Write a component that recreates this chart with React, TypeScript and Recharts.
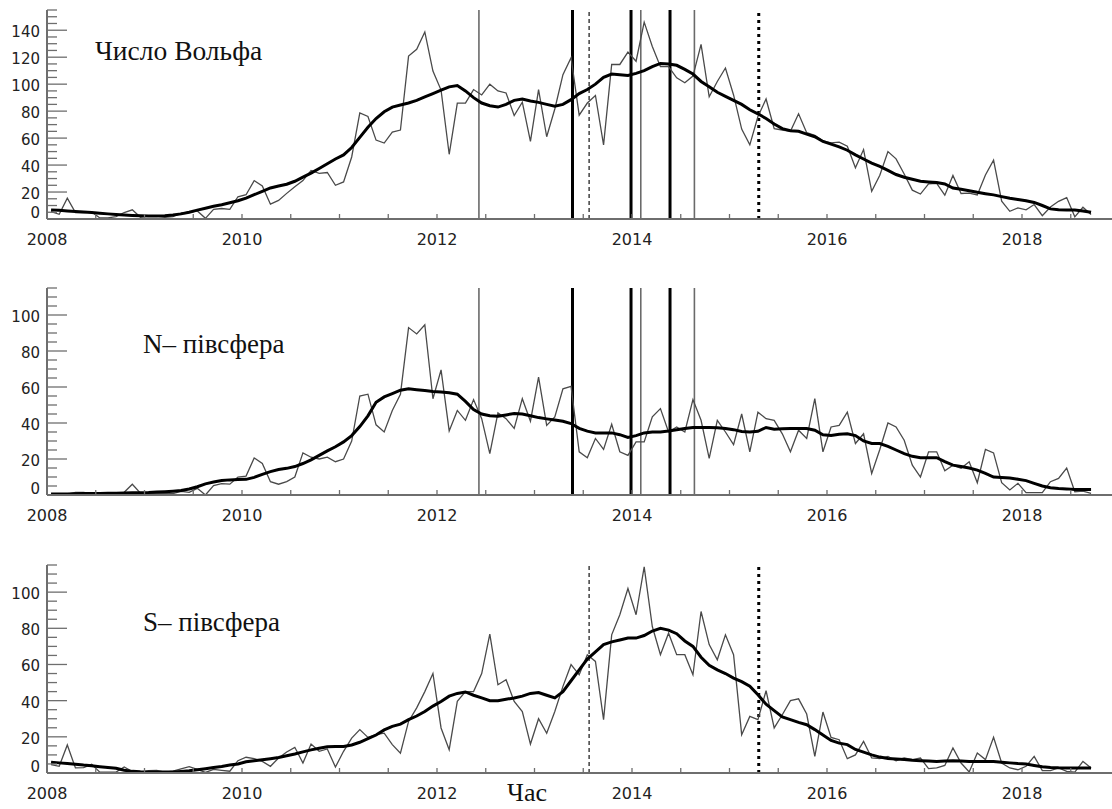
import { LineChart, Line, XAxis, YAxis, ReferenceLine } from "recharts";

// ── data: monthly values, Jan 2008 – Sep 2018 ────────────────────────────────
const START_YEAR = 2008;
const months = Array.from({ length: 129 }, (_, i) => START_YEAR + (i + 0.5) / 12);

const wolfMonthly = [
  5.5, 3.5, 15.5, 4.8, 4.8, 5.2, 0.8, 0.8, 1.8, 4.8, 6.8, 1.3,
  2.3, 2.2, 1.2, 1.8, 4.3, 5, 6, 0.5, 7.2, 7.8, 7.1, 16.5,
  18, 28.5, 24.5, 11, 13.8, 19, 24, 28.5, 36, 33.8, 34.5, 25,
  27.5, 46, 78.7, 76, 58.5, 56.3, 64.5, 66, 120.8, 125.8, 138.7, 109.7,
  95.6, 48, 86, 86, 96, 92, 100, 95, 93.5, 76.7, 86.6, 57.6,
  96, 61, 81.6, 107, 119.6, 77, 86, 91.6, 55, 114.6, 114.6, 123.8,
  117, 146, 128, 113, 113, 104.7, 101, 106, 129.5, 90.6, 102, 112,
  92, 66.7, 55, 76, 89, 67, 66, 65, 78, 64, 62, 58,
  56.4, 57, 54, 38, 51.5, 20.5, 32.4, 50, 44.6, 33.4, 21.4, 18.5,
  26, 26.4, 17.7, 32.3, 18.9, 19.2, 17.8, 32.6, 43.6, 13.2, 5.7, 8.2,
  6.8, 10.7, 2.5, 8.9, 13.1, 15.9, 1.6, 8.7, 3.3,
];
const wolfSmooth = [
  6.7, 6.4, 6.0, 5.6, 5.2, 4.8, 4.3, 3.8, 3.3, 2.9, 2.6, 2.4,
  2.2, 2.2, 2.4, 3.0, 3.8, 5.0, 6.6, 8.0, 9.4, 10.6, 12.0, 13.5,
  15.5, 18, 20.5, 23, 24.5, 25.8, 28, 31, 34, 37.5, 41, 44.5,
  47.5, 53, 60.5, 68, 74.5, 79.5, 83, 84.5, 86, 88, 90.5, 93,
  95.5, 98, 99, 95, 90, 86, 84, 83, 85, 88, 89, 87.5,
  86.5, 85, 83.6, 85, 88.5, 93, 96, 100, 105, 107.5, 107, 106.5,
  108, 110, 113, 115.4, 115, 114, 111, 107.5, 102, 98, 94, 91,
  88, 85, 81, 78, 74.5, 70.5, 67, 65.5, 65, 63, 61, 57.5,
  55.5, 53.5, 51, 47.6, 44.5, 41.5, 39, 36, 33, 31, 29.5, 28,
  27.5, 27, 26, 23, 22, 21, 19.8, 18.8, 17.9, 16.6, 15.4, 14.5,
  13.5, 12.3, 10, 7.5, 6.8, 6.7, 6.7, 6, 5,
];

const northMonthly = [
  0.5, 0.3, 0.5, 1.5, 1.5, 0.8, 0.5, 0.5, 1.3, 1.5, 6, 1,
  1, 0.8, 0.8, 0.8, 2, 1.5, 3.7, 0, 5.2, 6.3, 6, 10,
  10.5, 20.6, 17.5, 7.4, 6, 7.4, 10, 23.4, 21, 20, 21, 18.5,
  20, 30, 55, 56, 39, 35, 47, 56, 93, 89.5, 94.6, 53.5,
  69.5, 35.6, 47, 41.5, 53, 42.4, 23, 45.6, 42.4, 37, 53.5, 41,
  65.5, 38.7, 43.4, 59, 60.3, 24, 20.7, 31.4, 25.3, 39.3, 24, 22,
  29.5, 29.5, 43.4, 48, 35, 37.8, 35, 53, 41.5, 20.3, 41.5, 35,
  28, 45, 24, 46, 42.4, 41.5, 34, 24, 36, 31.4, 53.5, 24,
  37.8, 38.7, 46, 28.6, 34, 12, 25.3, 40, 37.8, 30.4, 16.6, 10,
  24, 24, 13.5, 16.6, 14.8, 18.5, 6.8, 25.3, 23.4, 6.8, 2.8, 6.5,
  1.3, 1.3, 1.3, 7.4, 9.2, 15, 1.8, 2.2, 0.9,
];
const northSmooth = [
  0.5, 0.5, 0.6, 0.7, 0.8, 0.9, 0.9, 1.0, 1.0, 1.1, 1.2, 1.3,
  1.4, 1.6, 1.8, 2.1, 2.5, 3.3, 4.6, 6.2, 7.2, 8.0, 8.4, 8.6,
  8.7, 9.8, 11.5, 13, 14.2, 14.8, 15.8, 17.5, 19.5, 22, 24.5, 26.8,
  29.5, 33, 38, 44, 51.5, 54.5, 56.3, 58.2, 59, 58.5, 58, 57.5,
  57.2, 56.8, 56, 52, 47.5, 45, 44, 43.7, 44.5, 45.3, 45, 44,
  43, 42.3, 41.7, 41, 39.7, 37, 35.5, 34.5, 34.5, 34.5, 33.5, 32,
  33, 34.5, 35, 35, 35.5, 36.2, 37, 37.5, 37.5, 37.5, 37.3, 37,
  36.3, 35.3, 35, 35.4, 37.5, 36.5, 36.8, 37, 37, 36.9, 36, 33.5,
  33, 33.8, 34, 33, 30, 28.6, 28.6, 27, 25, 23, 21.5, 20.7,
  20.7, 20.7, 18.5, 16.6, 15.8, 15, 13.8, 12, 10, 9.7, 9.5, 8.8,
  8, 6.5, 5, 4, 3.6, 3.4, 3, 3, 3,
];

const southMonthly = [
  4.6, 3.7, 15.5, 2.8, 3, 4.8, 0.5, 0.5, 0.5, 3.3, 0.8, 0.5,
  1.3, 1.4, 0.5, 1, 2.3, 3.5, 2, 0.3, 2, 1.5, 1, 6.8,
  8.7, 7.9, 6.4, 3.7, 8.3, 11.6, 14.2, 5.5, 16, 12, 13.3, 3.3,
  12, 19.3, 24, 19.7, 21.2, 22, 15.7, 11, 28.5, 36, 45, 55,
  24.9, 12.9, 39.6, 45, 45, 55, 76.8, 48.8, 51.6, 39.6, 34, 16,
  30, 22, 34, 47.9, 59.9, 54.3, 65.4, 61.7, 29.5, 76.4, 87.5, 102,
  87.5, 114, 81, 65.4, 77.3, 65.4, 65.4, 54.3, 89.3, 71, 62.6, 76.4,
  65.4, 21.2, 31.3, 29.5, 45.5, 24.9, 32.2, 40, 41, 32.6, 9.2, 33.7,
  19.7, 18.4, 7.9, 10, 17.5, 8.3, 7.9, 9.2, 6.8, 8.3, 7.4, 8.3,
  2.4, 2.8, 4.2, 13.8, 5.5, 0.6, 11, 7.4, 19.7, 5.5, 2.8, 1.8,
  3.7, 9.2, 1.3, 1.3, 2.8, 0.9, 0.5, 6.4, 2.8,
];
const southSmooth = [
  6, 5.6, 5.3, 4.9, 4.4, 4, 3.5, 3, 2.6, 1.5, 0.9, 0.7,
  0.6, 0.5, 0.5, 0.6, 0.9, 1.3, 1.8, 2.4, 3, 3.6, 4.4, 5,
  6.2, 6.8, 7.3, 7.9, 8.6, 9.5, 10.5, 11.7, 12.8, 13.7, 14.5, 14.7,
  14.7, 15.5, 17, 19, 21, 23.8, 25.8, 27, 29.5, 31.5, 34, 37,
  39.5, 42.5, 44, 44.8, 43, 41.5, 40, 40, 40.8, 41.5, 42.5, 44,
  44.5, 43, 41.5, 45, 51, 57, 63, 67, 71, 72.5, 73.5, 74.6,
  74.6, 76, 78.5, 80, 79, 77, 73, 70, 64, 59.5, 57, 55,
  52.5, 50.5, 48, 43.3, 38, 34.5, 31, 29.5, 28, 26.7, 24, 21,
  18, 16.5, 15.7, 13, 11.5, 10, 8.8, 8, 7.7, 7.4, 7, 6.8,
  6.6, 6.4, 6.6, 6.8, 6.6, 6.4, 6.4, 6.4, 6.4, 6, 5.6, 5.2,
  5, 4.2, 3.5, 3.1, 2.9, 2.8, 2.8, 2.8, 2.8,
];

// axis ticks
const xTicks = [
  2008, 2008.5, 2009, 2009.5, 2010, 2010.5, 2011, 2011.5, 2012, 2012.5, 2013,
  2013.5, 2014, 2014.5, 2015, 2015.5, 2016, 2016.5, 2017, 2017.5, 2018, 2018.5, 2019,
];
const yearLabels = [2008, 2010, 2012, 2014, 2016, 2018];
const yTicksWolf = [
  0, 5, 10, 15, 20, 25, 30, 35, 40, 45, 50, 55, 60, 65, 70, 75, 80, 85, 90, 95,
  100, 105, 110, 115, 120, 125, 130, 135, 140, 145, 150, 155,
];
const yTicksHemi = [
  0, 5, 10, 15, 20, 25, 30, 35, 40, 45, 50, 55, 60, 65, 70, 75, 80, 85, 90, 95,
  100, 105, 110, 115,
];

// event markers (decimal years)
const greyMarks = [2012.43, 2014.09, 2014.64];
const blackMarks = [2013.39, 2013.99, 2014.39];
const dotThinMarks = [2013.56];
const dotThickMarks = [2015.3];

const FRAME = "#6e6e6e";
const TICK_FONT = "DejaVu Sans, sans-serif";
const SERIF = "Liberation Serif, Times New Roman, serif";

const toRows = (thin: number[], smooth: number[]) =>
  months.map((t, i) => ({ t, v: thin[i], s: smooth[i] }));

// ── tick renderers (all ticks point inward, IDL style) ───────────────────────
function BottomTick({ x, y, payload }: any) {
  const v = payload.value;
  return (
    <g>
      <line x1={x} y1={y} x2={x} y2={y - 5} stroke={FRAME} strokeWidth={1.3} />
      {yearLabels.includes(v) && (
        <text x={x} y={y + 26} textAnchor="middle" fontFamily={TICK_FONT} fontSize={16} fill="#222">
          {v}
        </text>
      )}
    </g>
  );
}

function TopTick({ x, y }: any) {
  return <line x1={x} y1={y} x2={x} y2={y + 5} stroke={FRAME} strokeWidth={1.3} />;
}

function LeftTick({ x, y, payload }: any) {
  const v = payload.value;
  const major = v % 20 === 0;
  return (
    <g>
      <line x1={x} y1={y} x2={x + (major ? 20 : 10)} y2={y} stroke={FRAME} strokeWidth={1.3} />
      {major && (
        <text x={x - 7} y={v === 0 ? y - 1 : y + 7} textAnchor="end" fontFamily={TICK_FONT} fontSize={15} fill="#222">
          {v}
        </text>
      )}
    </g>
  );
}

function RightTick({ x, y, payload }: any) {
  const major = payload.value % 20 === 0;
  return <line x1={x} y1={y} x2={x - (major ? 20 : 10)} y2={y} stroke={FRAME} strokeWidth={1.3} />;
}

interface PanelProps {
  thin: number[];
  smooth: number[];
  yMax: number;
  yTicks: number[];
  top: number;
  height: number;
  solidMarks: boolean;
  dottedMarks: boolean;
}

function Panel({ thin, smooth, yMax, yTicks, top, height, solidMarks, dottedMarks }: PanelProps) {
  const rows = toRows(thin, smooth);
  const axisLine = { stroke: FRAME, strokeWidth: 2 };
  return (
    <div style={{ position: "absolute", left: 0, top }}>
      <LineChart width={1130} height={height} data={rows} margin={{ top: 10, right: 10.5, bottom: 0, left: 0 }}>
        <XAxis
          xAxisId="b"
          dataKey="t"
          type="number"
          domain={[2008, 2019]}
          allowDataOverflow
          ticks={xTicks}
          interval={0}
          height={30}
          tickSize={0}
          tickMargin={0}
          tickLine={false}
          axisLine={axisLine}
          tick={<BottomTick />}
        />
        <XAxis
          xAxisId="t"
          orientation="top"
          dataKey="t"
          type="number"
          domain={[2008, 2019]}
          allowDataOverflow
          ticks={xTicks}
          interval={0}
          height={0}
          tickSize={0}
          tickMargin={0}
          tickLine={false}
          axisLine={axisLine}
          tick={<TopTick />}
        />
        <YAxis
          yAxisId="l"
          type="number"
          domain={[0, yMax]}
          allowDataOverflow
          ticks={yTicks}
          interval={0}
          width={47}
          tickSize={0}
          tickMargin={0}
          tickLine={false}
          axisLine={axisLine}
          tick={<LeftTick />}
        />
        <YAxis
          yAxisId="r"
          orientation="right"
          type="number"
          domain={[0, yMax]}
          allowDataOverflow
          ticks={yTicks}
          interval={0}
          width={0}
          tickSize={0}
          tickMargin={0}
          tickLine={false}
          axisLine={axisLine}
          tick={<RightTick />}
        />

        {solidMarks &&
          greyMarks.map((m) => (
            <ReferenceLine key={"g" + m} x={m} xAxisId="b" yAxisId="l" stroke="#6a6a6a" strokeWidth={1.6} />
          ))}
        {solidMarks &&
          blackMarks.map((m) => (
            <ReferenceLine key={"k" + m} x={m} xAxisId="b" yAxisId="l" stroke="#000" strokeWidth={3} />
          ))}
        {dottedMarks &&
          dotThinMarks.map((m) => (
            <ReferenceLine key={"d" + m} x={m} xAxisId="b" yAxisId="l" stroke="#111" strokeWidth={1.2} strokeDasharray="4 3" />
          ))}
        {dottedMarks &&
          dotThickMarks.map((m) => (
            <ReferenceLine key={"D" + m} x={m} xAxisId="b" yAxisId="l" stroke="#000" strokeWidth={3} strokeDasharray="3 4" />
          ))}

        <Line
          xAxisId="b"
          yAxisId="l"
          type="linear"
          dataKey="v"
          stroke="#4a4a4a"
          strokeWidth={1.3}
          dot={false}
          isAnimationActive={false}
        />
        <Line
          xAxisId="t"
          yAxisId="r"
          type="linear"
          dataKey="s"
          stroke="#000"
          strokeWidth={3}
          dot={false}
          isAnimationActive={false}
        />
      </LineChart>
    </div>
  );
}

export default function App() {
  return (
    <div
      style={{
        position: "absolute",
        left: 0,
        top: 0,
        width: 1112,
        height: 809,
        overflow: "hidden",
        background: "#fff",
      }}
    >
      <Panel thin={wolfMonthly} smooth={wolfSmooth} yMax={155} yTicks={yTicksWolf} top={0} height={249} solidMarks dottedMarks />
      <Panel thin={northMonthly} smooth={northSmooth} yMax={115} yTicks={yTicksHemi} top={278} height={247} solidMarks dottedMarks={false} />
      <Panel thin={southMonthly} smooth={southSmooth} yMax={115} yTicks={yTicksHemi} top={555} height={248} solidMarks={false} dottedMarks />

      <svg width={1112} height={809} style={{ position: "absolute", left: 0, top: 0, pointerEvents: "none" }}>
        <text x={95} y={60} fontFamily={SERIF} fontSize={27.5} fill="#111">
          Число Вольфа
        </text>
        <text x={143} y={353} fontFamily={SERIF} fontSize={27} fill="#111">
          N– півсфера
        </text>
        <text x={143} y={631} fontFamily={SERIF} fontSize={27} fill="#111">
          S– півсфера
        </text>
        <text x={527} y={801} textAnchor="middle" fontFamily={SERIF} fontSize={26} fill="#111">
          Час
        </text>
      </svg>
    </div>
  );
}
